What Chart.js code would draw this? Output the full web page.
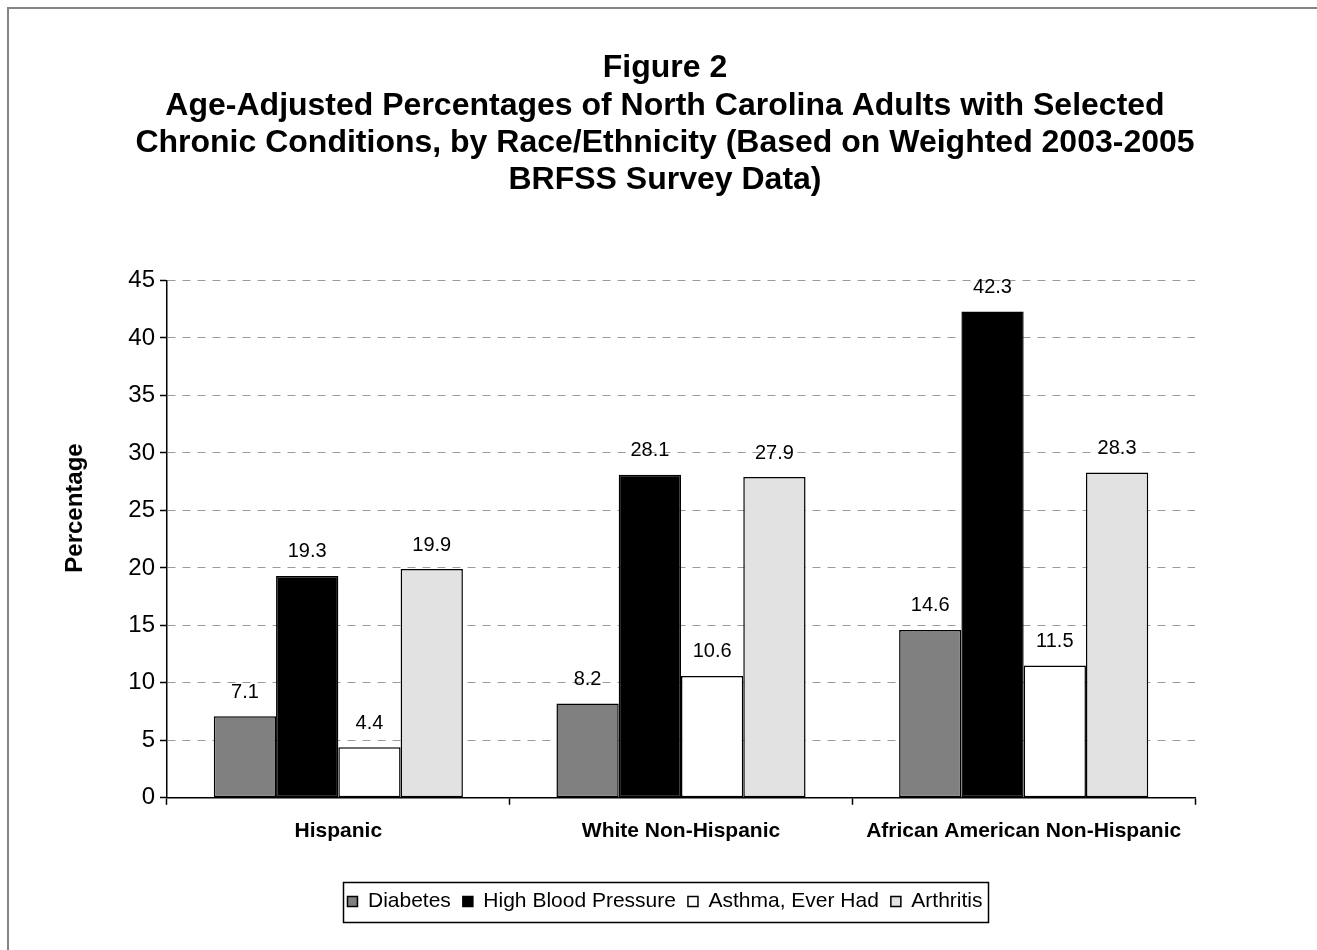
<!DOCTYPE html>
<html>
<head>
<meta charset="utf-8">
<script src="https://cdn.jsdelivr.net/npm/chart.js@4"></script>
<style>
  html, body { margin: 0; padding: 0; background: #fff; }
  #wrap { width: 1317px; height: 950px; }
</style>
</head>
<body>
<div id="wrap"><canvas id="myChart" width="1317" height="950"></canvas></div>
<script>
// values
const groups = ['Hispanic', 'White Non-Hispanic', 'African American Non-Hispanic']
const diabetes = [7.1, 8.2, 14.6]
const highBloodPressure = [19.3, 28.1, 42.3]
const asthma = [4.4, 10.6, 11.5]
const arthritis = [19.9, 27.9, 28.3]
const seriesNames = ['Diabetes', 'High Blood Pressure', 'Asthma, Ever Had', 'Arthritis']
const titleLines = [
  'Figure 2',
  'Age-Adjusted Percentages of North Carolina Adults with Selected',
  'Chronic Conditions, by Race/Ethnicity (Based on Weighted 2003-2005',
  'BRFSS Survey Data)'
]
const yTitle = 'Percentage'

const FONT = "'Liberation Sans', Arial, Helvetica, sans-serif"
const fills = ['#808080', '#000000', '#ffffff', '#e2e2e2']

const seriesData = [diabetes, highBloodPressure, asthma, arthritis]

// white page + grey frame round the whole figure
const framePlugin = {
  id: 'frame',
  beforeDraw(chart) {
    const ctx = chart.ctx
    ctx.save()
    ctx.fillStyle = '#fff'
    ctx.fillRect(0, 0, chart.width, chart.height)
    ctx.strokeStyle = '#858585'
    ctx.lineWidth = 2
    ctx.strokeRect(8, 8, chart.width + 20, chart.height + 20)
    ctx.restore()
  }
}

// number above every bar
const valueLabels = {
  id: 'valueLabels',
  afterDatasetsDraw(chart) {
    const ctx = chart.ctx
    ctx.save()
    ctx.font = '20px ' + FONT
    ctx.fillStyle = '#000'
    ctx.textAlign = 'center'
    ctx.textBaseline = 'middle'
    chart.data.datasets.forEach((ds, i) => {
      chart.getDatasetMeta(i).data.forEach((bar, j) => {
        ctx.fillText(ds.data[j].toFixed(1), bar.x, bar.y - 24)
      })
    })
    ctx.restore()
  }
}

// y axis title sits a bit above the middle of the axis in the original
const yTitlePlugin = {
  id: 'yTitle',
  afterDraw(chart) {
    const ctx = chart.ctx
    ctx.save()
    ctx.translate(75, 508)
    ctx.rotate(-Math.PI / 2)
    ctx.font = 'bold 24px ' + FONT
    ctx.fillStyle = '#000'
    ctx.textAlign = 'center'
    ctx.textBaseline = 'middle'
    ctx.fillText(yTitle, 0, 0)
    ctx.restore()
  }
}

// box round the legend
const legendBox = {
  id: 'legendBox',
  afterDraw(chart) {
    const boxes = chart.legend.legendHitBoxes
    if (!boxes || !boxes.length) return
    let l = Infinity, r = -Infinity, t = Infinity, b = -Infinity
    boxes.forEach(h => {
      l = Math.min(l, h.left); r = Math.max(r, h.left + h.width)
      t = Math.min(t, h.top); b = Math.max(b, h.top + h.height)
    })
    const ctx = chart.ctx
    ctx.save()
    ctx.strokeStyle = '#000'
    ctx.lineWidth = 1.5
    const cy = (t + b) / 2
    ctx.strokeRect(Math.round(l - 4) + 0.5, Math.round(cy - 20) + 0.5, Math.round(r - l + 10), 40)
    ctx.restore()
  }
}

const data = {
  labels: groups,
  datasets: seriesNames.map((name, i) => ({
    label: name,
    data: seriesData[i],
    backgroundColor: fills[i],
    borderColor: '#000',
    borderWidth: 1.5,
    borderSkipped: false,
    categoryPercentage: 0.727,
    barPercentage: 1.0
  }))
}

const config = {
  type: 'bar',
  data: data,
  options: {
    responsive: false,
    animation: false,
    layout: { padding: { left: 23, right: 10, top: 0, bottom: 28 } },
    plugins: {
      title: {
        display: true,
        text: titleLines,
        color: '#000',
        font: { family: FONT, size: 32, weight: 'bold', lineHeight: 1.16 },
        padding: { top: 50, bottom: 82 }
      },
      legend: {
        position: 'bottom',
        labels: {
          color: '#000',
          font: { family: FONT, size: 21 },
          boxWidth: 10,
          boxHeight: 10,
          padding: 12
        }
      },
      tooltip: { enabled: false }
    },
    scales: {
      x: {
        grid: {
          display: true,
          drawOnChartArea: false,
          drawTicks: true,
          tickLength: 7,
          tickColor: '#000',
          tickWidth: 1.5,
          offset: true
        },
        border: { color: '#000', width: 1.5 },
        ticks: {
          color: '#000',
          font: { family: FONT, size: 21, weight: 'bold' },
          padding: 14,
          maxRotation: 0
        },
        afterFit(scale) { scale.height += 21 }
      },
      y: {
        min: 0,
        max: 45,
        ticks: {
          stepSize: 5,
          color: '#000',
          font: { family: FONT, size: 24 },
          padding: 5
        },
        grid: {
          color: '#9a9a9a',
          lineWidth: 1,
          tickLength: 7,
          tickColor: '#000',
          tickWidth: 1.5
        },
        border: { color: '#000', width: 1.5, dash: [8, 7] },
        afterFit(scale) { scale.width = 144 }
      },
      // empty right-hand axis: keeps the plot narrower than the centred title/legend
      yRight: {
        type: 'linear',
        position: 'right',
        display: true,
        grid: { display: false },
        border: { display: false },
        ticks: { display: false },
        afterFit(scale) { scale.width = 112 }
      }
    }
  },
  plugins: [framePlugin, valueLabels, yTitlePlugin, legendBox]
}

const myChart = new Chart(document.getElementById('myChart'), config)
</script>
</body>
</html>
